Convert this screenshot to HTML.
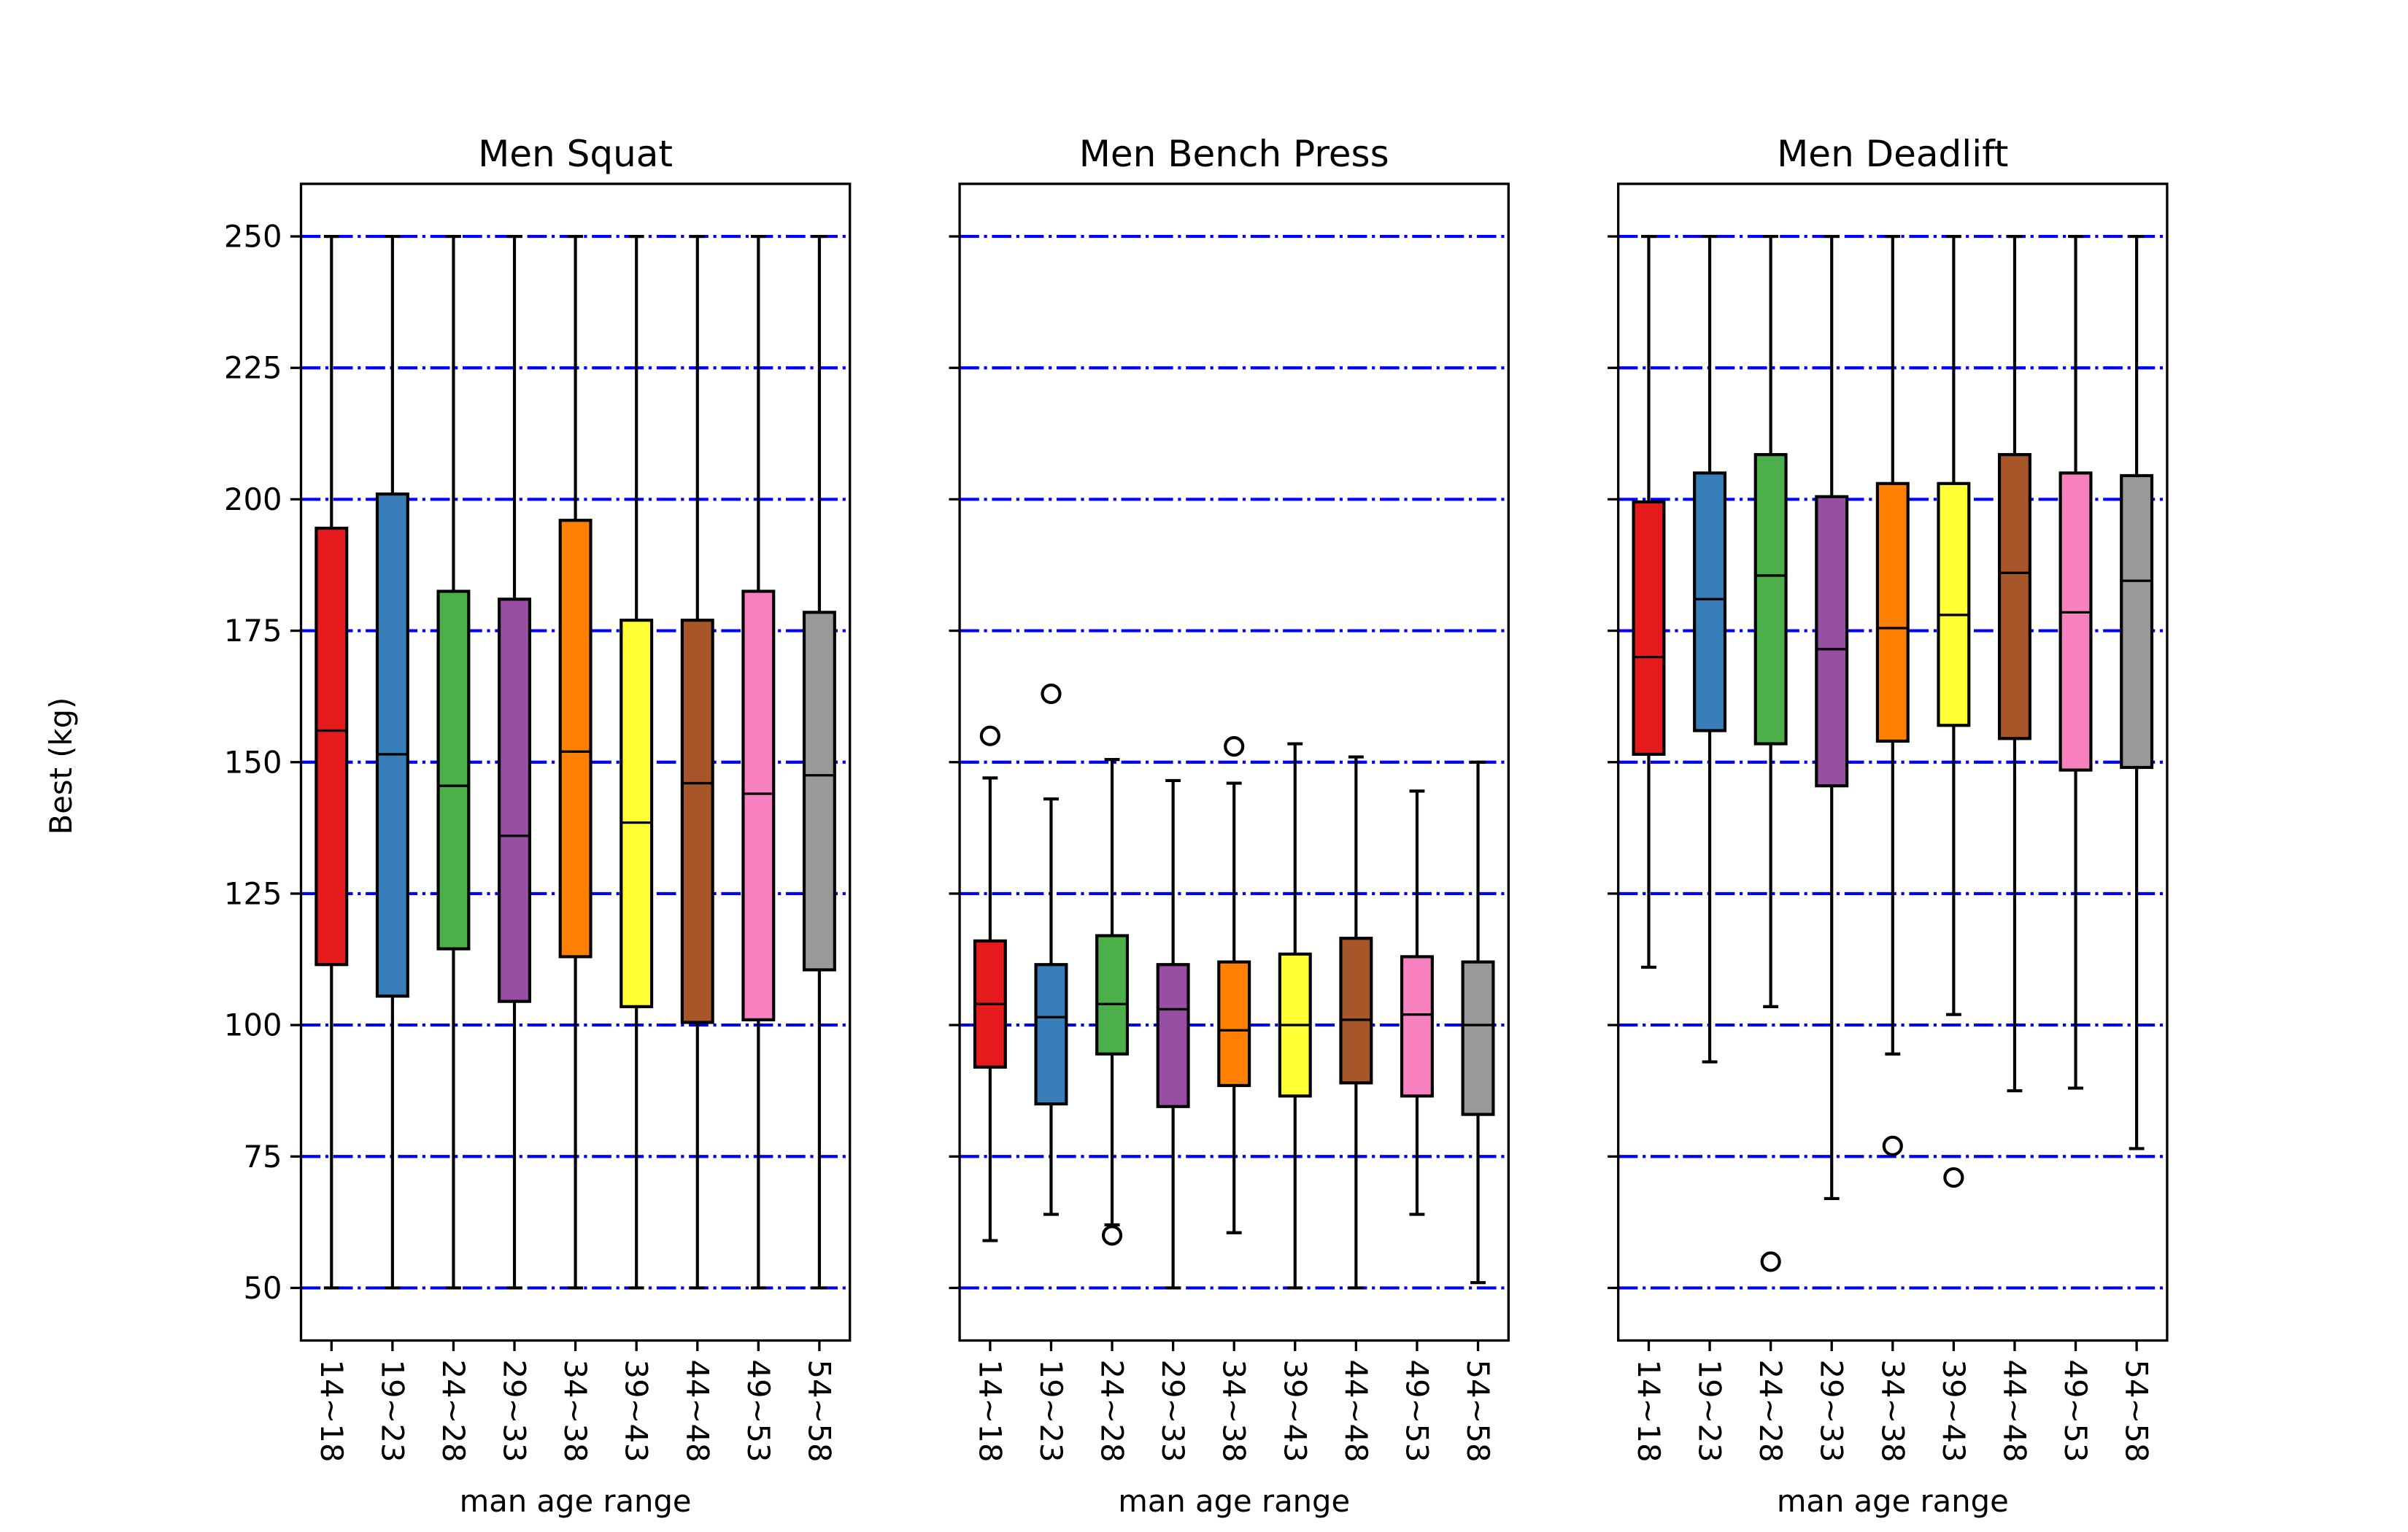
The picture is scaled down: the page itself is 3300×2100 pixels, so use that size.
<!DOCTYPE html>
<html><head><meta charset="utf-8"><style>
html,body{margin:0;padding:0;background:#fff}
svg{display:block;font-family:"DejaVu Sans","Liberation Sans",sans-serif}
</style></head><body>
<svg id="chart" width="3300" height="2100" viewBox="0 0 3300 2100" xmlns="http://www.w3.org/2000/svg">
<rect width="3300" height="2100" fill="#fff"/>
<text x="98" y="1050" font-size="41.7" text-anchor="middle" transform="rotate(-90 98 1050)">Best (kg)</text>
</svg>
<script>
const categories = ["14~18","19~23","24~28","29~33","34~38","39~43","44~48","49~53","54~58"];
const colors = ["#e41a1c","#377eb8","#4daf4a","#984ea3","#ff7f00","#ffff33","#a65628","#f781bf","#999999"];
const yTicks = [50,75,100,125,150,175,200,225,250];
const titles = ["Men Squat","Men Bench Press","Men Deadlift"];
// Squat
const squatQ1 = [111.5,105.5,114.5,104.5,113,103.5,100.5,101,110.5];
const squatMed = [156,151.5,145.5,136,152,138.5,146,144,147.5];
const squatQ3 = [194.5,201,182.5,181,196,177,177,182.5,178.5];
const squatLo = [50,50,50,50,50,50,50,50,50];
const squatHi = [250,250,250,250,250,250,250,250,250];
const squatFliers = [[],[],[],[],[],[],[],[],[]];
// Bench
const benchQ1 = [92,85,94.5,84.5,88.5,86.5,89,86.5,83];
const benchMed = [104,101.5,104,103,99,100,101,102,100];
const benchQ3 = [116,111.5,117,111.5,112,113.5,116.5,113,112];
const benchLo = [59,64,62,50,60.5,50,50,64,51];
const benchHi = [147,143,150.5,146.5,146,153.5,151,144.5,150];
const benchFliers = [[155],[163],[60],[],[153],[],[],[],[]];
// Deadlift
const deadQ1 = [151.5,156,153.5,145.5,154,157,154.5,148.5,149];
const deadMed = [170,181,185.5,171.5,175.5,178,186,178.5,184.5];
const deadQ3 = [199.5,205,208.5,200.5,203,203,208.5,205,204.5];
const deadLo = [111,93,103.5,67,94.5,102,87.5,88,76.5];
const deadHi = [250,250,250,250,250,250,250,250,250];
const deadFliers = [[],[],[55],[],[77],[71],[],[],[]];

const panels = [
 {q1:squatQ1,med:squatMed,q3:squatQ3,lo:squatLo,hi:squatHi,fl:squatFliers},
 {q1:benchQ1,med:benchMed,q3:benchQ3,lo:benchLo,hi:benchHi,fl:benchFliers},
 {q1:deadQ1,med:deadMed,q3:deadQ3,lo:deadLo,hi:deadHi,fl:deadFliers}
];
const NS="http://www.w3.org/2000/svg";
const svg=document.getElementById('chart');
const top_=252, bot=1837.5, W=752.2, gap=150.4, left0=412.5;
const yMin=40, yMax=260;
function y(v){return bot-(v-yMin)/(yMax-yMin)*(bot-top_);}
function mk(tag,attrs,parent){const e=document.createElementNS(NS,tag);for(const k in attrs)e.setAttribute(k,attrs[k]);(parent||svg).appendChild(e);return e;}
const LW=4.17;
panels.forEach((p,pi)=>{
  const L=left0+pi*(W+gap), R=L+W;
  function x(i){return L+(i+0.5)/categories.length*W;}
  const unit=W/categories.length;
  const g=mk('g',{});
  
  
  yTicks.forEach(t=>{
    const gl=mk('line',{x1:L,x2:R,y1:y(t),y2:y(t),stroke:'#0000ff','stroke-width':LW,'stroke-dasharray':'26.7 6.7 4.2 6.7'},g);
    
    
    const tk=mk('line',{x1:L-14.6,x2:L,y1:y(t),y2:y(t),stroke:'#000','stroke-width':3.3},g);
    
    
    if(pi===0){
      const tl=mk('text',{x:L-26,y:y(t)+14.5,'font-size':41.7,'text-anchor':'end'},g);
      tl.textContent=t;
      
      
    }
  });
  categories.forEach((c,i)=>{
    const cx=x(i), hw=unit*0.25, cw=unit*0.125;
    const bg=mk('g',{},g);
    
    
    mk('line',{x1:cx,x2:cx,y1:y(p.hi[i]),y2:y(p.q3[i]),stroke:'#000','stroke-width':LW},bg);
    mk('line',{x1:cx,x2:cx,y1:y(p.lo[i]),y2:y(p.q1[i]),stroke:'#000','stroke-width':LW},bg);
    mk('line',{x1:cx-cw,x2:cx+cw,y1:y(p.hi[i]),y2:y(p.hi[i]),stroke:'#000','stroke-width':LW},bg);
    mk('line',{x1:cx-cw,x2:cx+cw,y1:y(p.lo[i]),y2:y(p.lo[i]),stroke:'#000','stroke-width':LW},bg);
    mk('rect',{x:cx-hw,y:y(p.q3[i]),width:2*hw,height:y(p.q1[i])-y(p.q3[i]),fill:colors[i],stroke:'#000','stroke-width':LW},bg);
    mk('line',{x1:cx-hw,x2:cx+hw,y1:y(p.med[i]),y2:y(p.med[i]),stroke:'#000','stroke-width':LW*0.8},bg);
    p.fl[i].forEach(f=>{
      const fc=mk('circle',{cx:cx,cy:y(f),r:12,fill:'none',stroke:'#000','stroke-width':LW},bg);
      
      
    });
    const xt=mk('line',{x1:cx,x2:cx,y1:bot,y2:bot+14.6,stroke:'#000','stroke-width':3.3},g);
    
    
    const xl=mk('text',{x:cx,y:bot+26,'font-size':41.7,'text-anchor':'start',transform:`rotate(90 ${cx} ${bot+26}) translate(0 14.5)`},g);
    xl.textContent=c;
    
    
  });
  const fr=mk('rect',{x:L,y:top_,width:W,height:bot-top_,fill:'none',stroke:'#000','stroke-width':3.3},g);
  
  
  const tt=mk('text',{x:L+W/2,y:228,'font-size':50,'text-anchor':'middle'},g);
  tt.textContent=titles[pi];
  
  
  const xa=mk('text',{x:L+W/2,y:2072,'font-size':41.7,'text-anchor':'middle'},g);
  xa.textContent='man age range';
  
  
});
</script>
</body></html>
